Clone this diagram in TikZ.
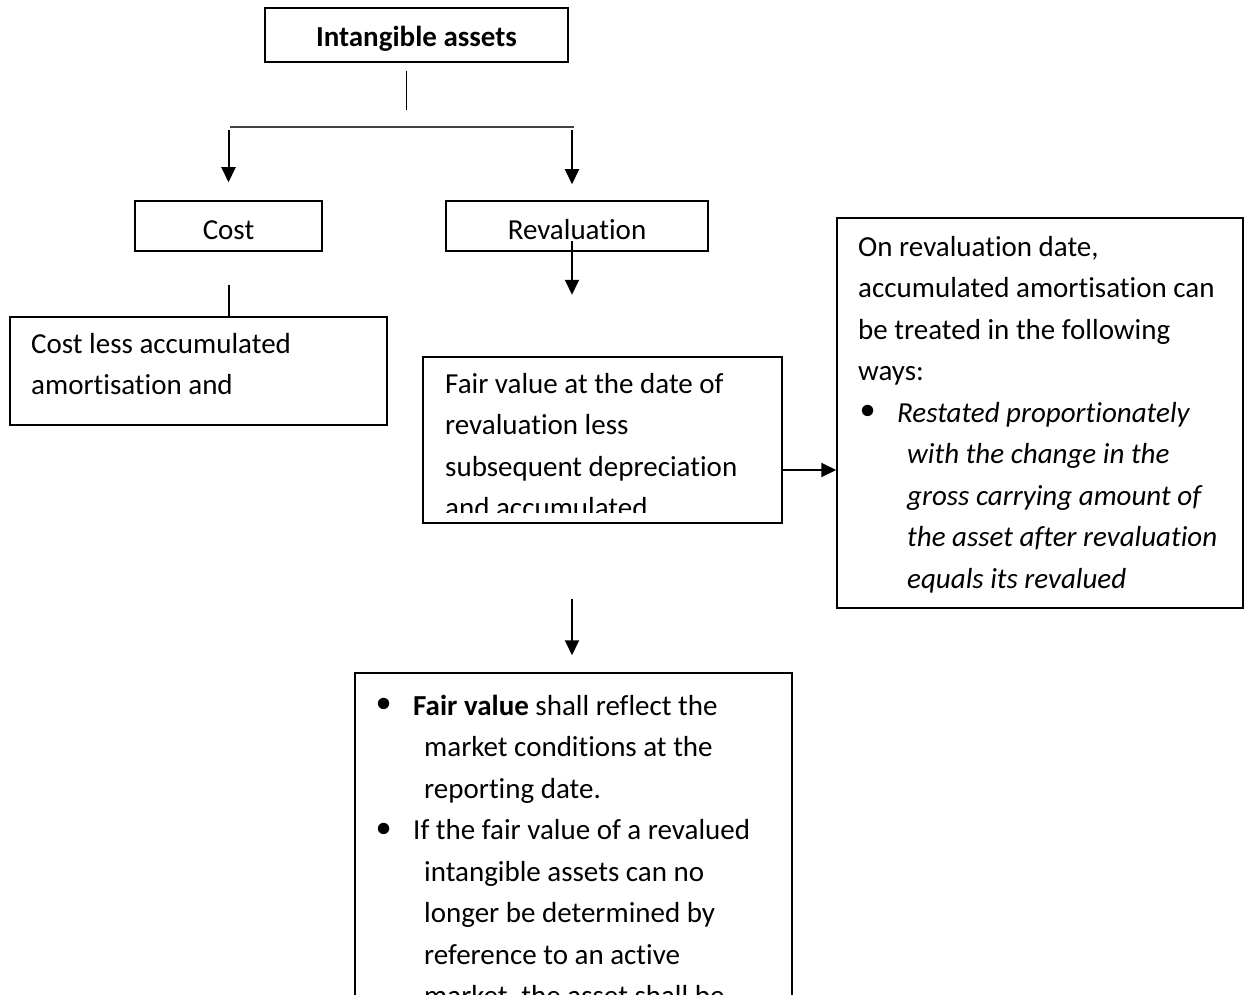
\documentclass[tikz,border=0pt]{standalone}
\usepackage{graphicx}
\usepackage{fontspec}
\setmainfont{Carlito}[Ligatures=NoCommon]
\newfontfamily\bulletfont{DejaVu Sans}
\usetikzlibrary{arrows.meta}
% bullet hung to the left of the current text start
\newcommand\blt{\llap{\makebox[41pt][l]{\raisebox{-3.3pt}{\scalebox{1.35}{\bulletfont\symbol{"2022}}}}}}
% fixes the height of the first line so the baseline position is known
\newcommand\firststrut{\rule{0pt}{30pt}}
\begin{document}
\begin{tikzpicture}[x=1pt,y=-1pt,
  every node/.style={font=\fontsize{29}{41.5}\selectfont},
  box/.style={draw=black, line width=1.5pt, inner sep=0pt},
  link/.style={line width=2pt},
  arr/.style={line width=2pt, -{Triangle[length=15pt,width=14pt]}},
  txt/.style={align=left, anchor=north west, inner sep=0pt}]
\clip (0,0) rectangle (1250,995);
\fill[white] (0,0) rectangle (1250,995);

% boxes
\node[box, minimum width=303pt, minimum height=54pt, text height=30pt, text depth=6pt] (top) at (416.5,35) {\bfseries Intangible assets};
\node[box, minimum width=187pt, minimum height=50pt, text height=34pt, text depth=6pt] (cost) at (228.5,226) {Cost};
\node[box, minimum width=262pt, minimum height=50pt, text height=34pt, text depth=6pt] (reval) at (577,226) {Revaluation};
\node[box, minimum width=377pt, minimum height=108pt] (costless) at (198.5,371) {};
\node[box, minimum width=359pt, minimum height=166pt] (fair) at (602.5,440) {};
\node[box, minimum width=406pt, minimum height=390pt] (note) at (1040,413) {};
\node[box, minimum width=437pt, minimum height=360pt] (detail) at (573.5,853) {};

% box texts
\node[txt] (costlessText) at (31,323) {\firststrut Cost less accumulated\\amortisation and};
\begin{scope}
  \clip (424,358) rectangle (781,512);
  \node[txt] (fairText) at (445,363) {\firststrut Fair value at the date of\\revaluation less\\subsequent depreciation\\and accumulated};
\end{scope}
\node[txt] (noteText) at (858,226) {\firststrut On revaluation date,\\accumulated amortisation can\\be treated in the following\\ways:\\
  \hspace*{39pt}\blt\textit{Restated proportionately}\\
  \hspace*{49pt}\textit{with the change in the}\\
  \hspace*{49pt}\textit{gross carrying amount of}\\
  \hspace*{49pt}\textit{the asset after revaluation}\\
  \hspace*{49pt}\textit{equals its revalued}};
\node[txt] (detailText) at (413,685) {\firststrut\blt\textbf{Fair value} shall reflect the\\
  \hspace*{11pt}market conditions at the\\
  \hspace*{11pt}reporting date.\\
  \blt If the fair value of a revalued\\
  \hspace*{11pt}intangible assets can no\\
  \hspace*{11pt}longer be determined by\\
  \hspace*{11pt}reference to an active\\
  \hspace*{11pt}market, the asset shall be};

% connectors
\draw[line width=1pt] ([xshift=-10.5pt,yshift=-8pt]top.south) coordinate (stemTop) -- ++(0,39) coordinate (stemEnd);
\coordinate (busL) at (230,127);
\coordinate (busR) at (574,127);
\draw[line width=2pt, draw=black!75] (busL) -- (busR);
\draw[arr] ([yshift=-3pt]busL -| cost.north) -- ([yshift=18pt]cost.north);
\coordinate (rArrEnd) at ([xshift=-5pt,yshift=16pt]reval.north);
\draw[arr] ([yshift=-3pt]busR -| rArrEnd) -- (rArrEnd);
\draw[arr] ([xshift=-5pt,yshift=11pt]reval.south) -- ([xshift=-5pt,yshift=-43pt]reval.south);
\draw[link] ([yshift=-33pt]cost.south) -- ([yshift=-64pt]cost.south);
\draw[arr] ([yshift=-30pt]fair.east) -- ([yshift=-30pt]fair.east -| note.west);
\coordinate (dArrEnd) at ([xshift=-1.5pt,yshift=17pt]detail.north);
\draw[arr] ([yshift=56pt]dArrEnd) -- (dArrEnd);
\end{tikzpicture}
\end{document}
